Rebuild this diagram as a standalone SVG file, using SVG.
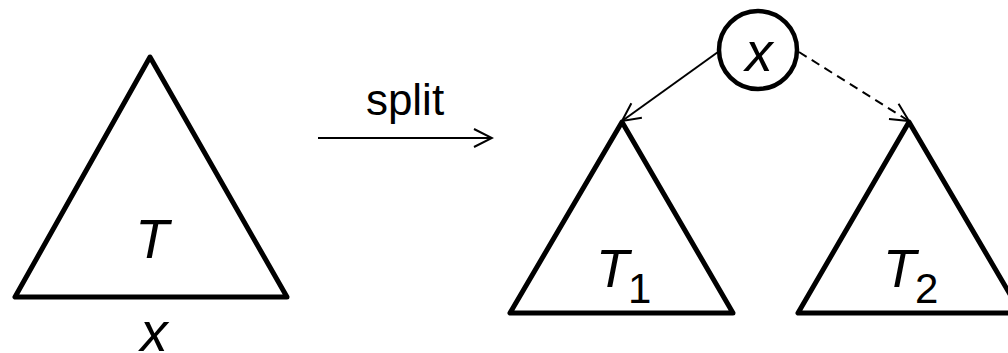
<svg xmlns="http://www.w3.org/2000/svg" width="1008" height="353" viewBox="0 0 1008 353">
<defs>
<style>
.tri{fill:none;stroke:#000;stroke-width:5;stroke-linejoin:round}
.lbl{font-family:"Liberation Sans",Arial,sans-serif;font-style:italic;fill:#000}
.sub{font-family:"Liberation Sans",Arial,sans-serif;fill:#000}
.edge{fill:none;stroke:#000;stroke-width:2}
</style>
<marker id="open" viewBox="0 0 22 22" refX="20" refY="11" markerWidth="22" markerHeight="22" markerUnits="userSpaceOnUse" orient="auto">
<path d="M2,2 L20,11 L2,20" fill="none" stroke="#000" stroke-width="2"/>
</marker>
</defs>
<rect width="1008" height="353" fill="#fff"/>
<g id="tree-T">
<polygon class="tri" points="150,57 15,297 287,297"/>
<text class="lbl" x="152" y="258" font-size="55" text-anchor="middle">T</text>
<text class="lbl" x="154" y="351" font-size="55" text-anchor="middle">x</text>
</g>
<g id="split">
<line class="edge" x1="318" y1="138" x2="492" y2="138" marker-end="url(#open)"/>
<text class="sub" x="405" y="115" font-size="44" text-anchor="middle">split</text>
</g>
<g id="node-x">
<circle cx="758" cy="50" r="39" fill="#fff" stroke="#000" stroke-width="4.5"/>
<text class="lbl" x="759" y="71" font-size="55" text-anchor="middle">x</text>
</g>
<g id="tree-T1">
<polygon class="tri" points="622,122 510,313 733,313"/>
<text class="lbl" x="596" y="287" font-size="54">T</text>
<text class="sub" x="628" y="303" font-size="42">1</text>
</g>
<g id="tree-T2">
<polygon class="tri" points="909,122 798,313 1021,313"/>
<text class="lbl" x="883" y="287" font-size="54">T</text>
<text class="sub" x="915" y="303" font-size="42">2</text>
</g>
<g id="connectors">
<line class="edge" x1="718" y1="52" x2="622" y2="121" marker-end="url(#open)"/>
<line class="edge" x1="799" y1="52" x2="909" y2="121" stroke-dasharray="9,6" marker-end="url(#open)"/>
</g>
</svg>
